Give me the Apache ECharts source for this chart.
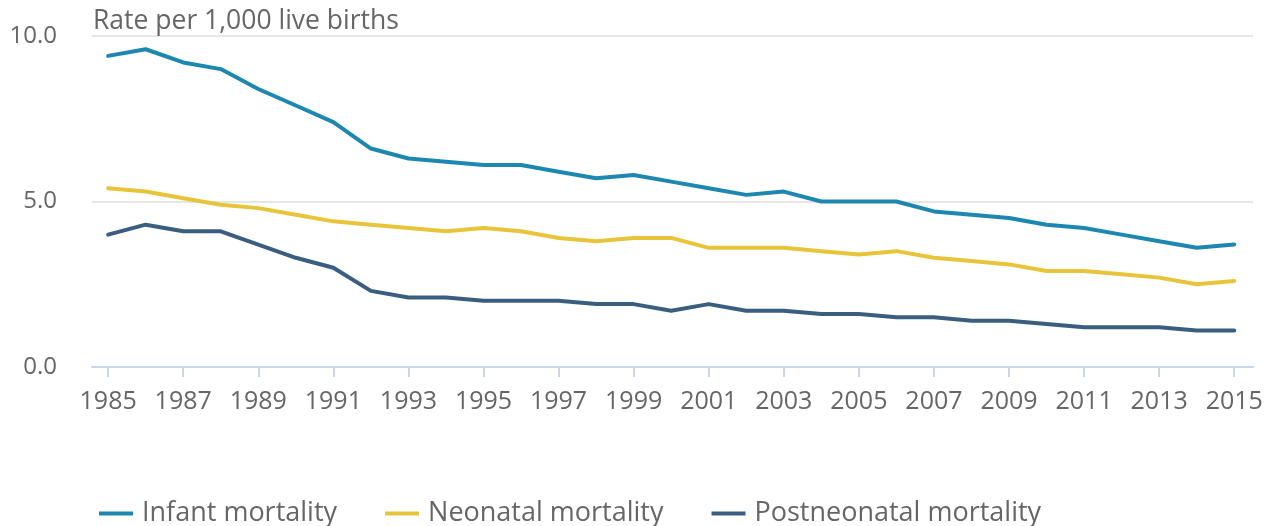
<!DOCTYPE html>
<html>
<head>
<meta charset="utf-8">
<script src="https://cdn.jsdelivr.net/npm/echarts@6/dist/echarts.min.js"></script>
<style>
html, body { margin: 0; padding: 0; background: #fff; }
#chart { width: 1270px; height: 526px; }
</style>
</head>
<body>
<div id="chart"></div>
<script>
var years = [];
for (var y = 1985; y <= 2015; y++) years.push(y);
var tickYears = [1985, 1987, 1989, 1991, 1993, 1995, 1997, 1999, 2001, 2003, 2005, 2007, 2009, 2011, 2013, 2015];

var infant = [9.4, 9.6, 9.2, 9.0, 8.4, 7.9, 7.4, 6.6, 6.3, 6.2, 6.1, 6.1, 5.9, 5.7, 5.8, 5.6,
    5.4, 5.2, 5.3, 5.0, 5.0, 5.0, 4.7, 4.6, 4.5, 4.3, 4.2, 4.0, 3.8, 3.6, 3.7];
var neonatal = [5.4, 5.3, 5.1, 4.9, 4.8, 4.6, 4.4, 4.3, 4.2, 4.1, 4.2, 4.1, 3.9, 3.8, 3.9, 3.9,
    3.6, 3.6, 3.6, 3.5, 3.4, 3.5, 3.3, 3.2, 3.1, 2.9, 2.9, 2.8, 2.7, 2.5, 2.6];
var postneonatal = [4.0, 4.3, 4.1, 4.1, 3.7, 3.3, 3.0, 2.3, 2.1, 2.1, 2.0, 2.0, 2.0, 1.9, 1.9, 1.7,
    1.9, 1.7, 1.7, 1.6, 1.6, 1.5, 1.5, 1.4, 1.4, 1.3, 1.2, 1.2, 1.2, 1.1, 1.1];

var font = '"Open Sans", sans-serif';
var textColor = '#666666';

function pairs(vals) {
    return years.map(function (yr, i) { return [yr, vals[i]]; });
}

function lineSeries(name, vals, color) {
    return {
        name: name,
        type: 'line',
        data: pairs(vals),
        showSymbol: false,
        color: color,
        lineStyle: { width: 4, color: color, cap: 'round', join: 'round' }
    };
}

var chart = echarts.init(document.getElementById('chart'));
var option = {
    animation: false,
    title: {
        text: 'Rate per 1,000 live births',
        left: 88,
        top: 3,
        textStyle: { fontFamily: font, fontSize: 26.5, fontWeight: 'normal', color: textColor }
    },
    grid: { left: 92, right: 17, top: 36, bottom: 159, containLabel: false },
    xAxis: {
        type: 'value',
        min: 1984.57,
        max: 2015.5,
        axisLine: { show: true, lineStyle: { color: '#ccd6eb', width: 2 } },
        axisTick: { show: true, length: 10, lineStyle: { color: '#ccd6eb', width: 2 }, customValues: tickYears },
        axisLabel: {
            customValues: tickYears,
            margin: 22,
            fontFamily: font,
            fontSize: 25,
            color: textColor,
            formatter: function (v) { return String(v); }
        },
        splitLine: { show: false }
    },
    yAxis: {
        type: 'value',
        min: 0,
        max: 10,
        interval: 5,
        axisLine: { show: false },
        axisTick: { show: false },
        axisLabel: {
            margin: 35,
            fontFamily: font,
            fontSize: 24,
            color: textColor,
            formatter: function (v) { return v.toFixed(1); }
        },
        splitLine: { lineStyle: { color: '#e6e6e6', width: 2 } }
    },
    legend: {
        left: 94,
        top: 495,
        icon: 'rect',
        itemWidth: 34,
        itemHeight: 4,
        itemGap: 48,
        textStyle: { fontFamily: font, fontSize: 27, color: textColor, padding: [0, 0, 0, 4] },
        data: ['Infant mortality', 'Neonatal mortality', 'Postneonatal mortality']
    },
    series: [
        lineSeries('Infant mortality', infant, '#1c87b0'),
        lineSeries('Neonatal mortality', neonatal, '#e8c43a'),
        lineSeries('Postneonatal mortality', postneonatal, '#3a5e80')
    ]
};
chart.setOption(option);
</script>
</body>
</html>
